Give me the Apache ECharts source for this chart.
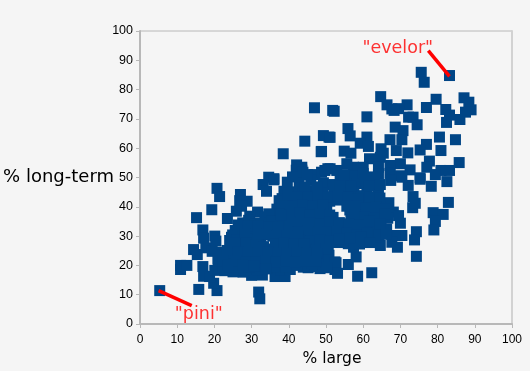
<!DOCTYPE html>
<html>
<head>
<meta charset="utf-8">
<script src="https://cdn.jsdelivr.net/npm/echarts@6/dist/echarts.min.js"></script>
<style>
  html, body { margin: 0; padding: 0; background: #f5f5f5; }
  #main { width: 530px; height: 371px; }
</style>
</head>
<body>
<div id="main"></div>
<script>
// [% large, % long-term]
var upperPoints = [
  [46.9,73.8],[52.2,72.6],[49.3,64.3],[50.8,63.8],[44.3,62.4],[48.7,58.8],[38.5,58.1],[42.1,54.3],[43.5,53.5],[42,52.5],[43.5,52.5],
  [47,51],[48.8,51.8],[50.5,53],[34.6,50.1],[36,49.6],[83.2,84.8],[75.6,85.9],[76.4,82.5],[64.7,77.6],[79.6,76.7],[87.1,77.2],
  [88.4,75.7],[66.4,74.8],[71.8,74.8],[77,73.9],[82.2,73.2],[89,73.1],[67.7,73.4],[69.5,73.5],[68.3,72.9],[87.5,72.3],[51.8,72.9],
  [61,70.7],[83.2,71.3],[72.2,70.6],[73.4,70.6],[86,69.8],[82.4,68.8],[74.5,68],[68.6,67.2],[55.9,66.7],[70.7,66],[56.5,64.2],
  [51.1,63.7],[61,63.8],[80.5,63.8],[84.8,62.9],[67.2,62.9],[70.4,62.9],[59.2,61.7],[61.4,60.6],[77,61.3],[75.3,59.4],[72,58.4],
  [80.9,59.2],[54.9,59],[56.7,58.3],[68.9,59.2],[64.8,59.8],[65.4,58.3],[48.8,58.9],[64.6,56.9],[61.7,56.4],[77.8,55.6],[85.8,55.1],
  [77.1,53.5],[80.9,52.4],[83.2,52.4],[79.4,51],[75.3,49.9],[72.6,52.6],[70,54.7],[67.2,54.1],[64.1,53.5],[64.1,51.2],[67.2,51.4],
  [70,50.6],[60,53.5],[57.4,53.5],[55.6,54.7],[51.1,53],[49.7,52.4],[52.9,52.4],[53.8,50.6],[57.4,50.6],[60,51.4]
];
var rightPoints = [
  [67.4,49],[75.3,49.4],[78.3,47],[82.5,48.6],[72.1,47.3],[70.4,50.1],[73.4,43.5],[73.3,39.7],[74,41.2],[82.9,41.5],[78.8,38],
  [81.5,37.4],[79.4,35],[79,32.1],[66.9,41.4],[68.1,38.2],[69.5,37],[70,34.4],[65,38.2],[63.2,37.7],[61,37.7],[62.8,42.2],[64.1,45.6],
  [61,45],[58.3,47.9],[74.3,31.5],[73.8,28.7],[70.4,30.2],[68.6,30.2],[67.7,27.9],[69.2,26.2],[65,31.7],[64.6,26.8],[74.3,23.1],
  [62.3,17.5],[58.5,16.3],[58.1,22.9],[56,20.3],[52.7,20.9],[52.4,18.6],[53.1,17.3],[49.3,20.5],[61,29.2],[57.8,28.5],[56,27.4],
  [57.4,26.2],[59.2,31.9],[57.3,31.9],[61.9,33],[63.7,33.6]
];
var lowerLeftPoints = [
  [5.3,11.4],[15.8,11.8],[20.7,11.4],[19.8,13.9],[31.9,10.9],[32.2,8.6],[10.9,20],[10.9,18.6],[12.6,20],[16.9,19.6],[17.1,16.3],
  [18.7,16.2],[15.4,23.7],[14.4,25.4],[17.7,26],[19.4,24.8],[23.4,25.1],[16.9,32.1],[17.1,29.3],[20.1,30],[20.4,28.3],[15.2,36.3],
  [19.3,39],[23.5,36],[20.7,46.3],[21.4,43.5],[27,44.2],[26.8,42.1],[28.8,41.9],[27.3,40.2],[25.9,38.5],[31.6,38.2],[29.5,36.8],
  [33.1,47.6],[34,45.3],[36,49.2],[38.7,45.3],[42.1,51.3],[43.8,51.8],[25.6,31.9],[24.6,29.6],[24.1,28.5],[32.9,16.7],[30,16.6],
  [27.7,17.7],[25.9,18.3],[36.3,16.2],[39,16.2],[20.1,18.3],[22.3,19.4],[21,22.3],[23.2,21.7],[43.9,19.4],[48.4,18.9]
];
var centerPoints = [
  [39.6,48.4],[42.8,48],[45.9,49],[49.3,48.2],[51.8,47.6],[55.2,48.3],[60.7,48.6],[63,47.7],
  [38.2,42.8],[41,45.1],[43.7,44.6],[46.6,45.4],[49.2,44.8],[52.1,45],[54.8,44.6],[57.5,45.2],[59.4,43.8],
  [37.4,42.1],[40.3,41.6],[43.2,42.2],[45.8,41.7],[48.5,42.4],[51,41.9],[53.9,42.3],[56.6,41.6],[59.3,41.2],[61.5,40.4],[64.2,41],
  [33.6,35.4],[36.8,39.2],[39.5,38.6],[42.2,39.4],[44.8,38.8],[47.6,39.1],[50.2,38.6],[56.4,38.9],[58.9,38.5],
  [27.6,34.5],[33.7,36.6],[36.2,36.3],[39,35.8],[41.7,36.4],[44.4,35.7],[47,36.2],[49.7,35.8],[51.9,36.4],[56.7,35.6],[59.4,35.9],[64.8,35.2],[66.6,36.1],
  [27.4,33],[30.4,33.2],[33.2,32.8],[36,33.3],[38.5,32.7],[41.2,33.2],[43.9,32.6],[46.5,33],[49.2,32.5],[51.8,33.2],[54.4,32.7],[66.3,32.4],
  [24.9,30.4],[27.6,30.8],[30.3,30],[33,30.5],[35.7,30],[38.4,30.6],[41,29.9],[43.7,30.4],[46.3,29.8],[49,30.5],[51.7,29.8],[54.3,30.2],[63.3,29.8],
  [24.4,27],[27.2,27.4],[29.8,26.8],[32.5,27.2],[37.4,26.7],[40,27.3],[42.7,26.6],[45.3,27.2],[48,26.7],[50.6,27.1],[53.2,27.8],[59,27.3],
  [22,24.4],[25,24],[27.6,24.2],[30.3,23.7],[33,24.3],[35.6,23.8],[38.3,24.2],[41,23.6],[43.6,24.1],[46.3,23.6],[49,24.2],[50.8,23.5],
  [21,21.4],[24.5,20.8],[27.2,21.2],[29.8,20.6],[32.5,21.1],[35.2,20.6],[37.8,21.2],[40.5,20.5],[43.2,21],[45.8,20.5],[48.4,21.1],[50.5,22.3],
  [22.8,18.2],[25,17.8],[28.4,18.6],[31.4,18.4],[34.2,19],[37.8,18.4],[40.4,18.6],[45.2,19.2],[47.1,19.6]
];
// the solid middle of the cloud, second pass between the rows above
var middlePoints = [
  [41,50.2],[45,51],[54.8,51],[60.4,50],[62.5,50.2],[56.6,47],[53.8,47.2],[47.6,46.8],[44.3,46.6],[61.6,47.2],[64.6,47.6],
  [39.7,44],[42.4,43.4],[45.2,43.2],[47.9,43.6],[50.6,43.4],[53.3,43.6],[56,43.2],[58.6,42.8],[61.8,43.4],[64.5,43],
  [38.2,40.4],[41,40.2],[43.7,40.6],[46.4,40.2],[49.1,40.6],[55.6,40.2],[58.2,40.2],[60.8,39.6],[63.4,39.8],[66,39.4],
  [34.6,37.6],[37.6,37.4],[40.3,37.2],[43.1,37.8],[45.8,37.3],[48.4,37.6],[51,37.2],[57.8,37.2],[60.4,36.4],[63,36],[65.8,37.4],
  [34.9,34.6],[37.6,34.4],[40.3,34.8],[43,34.3],[45.7,34.6],[48.4,34.2],[51,34.7],[53.6,34.6],[56.3,34.2],[59,33.8],[61.7,35],[64.5,34],
  [28.9,32],[31.6,31.6],[34.3,31.8],[37,31.4],[39.7,31.6],[42.4,31.3],[45.1,31.6],[47.8,31.2],[50.4,31.5],[53,31.6],[55.7,31],[58.4,30.4],[61,31],[64.2,30.4],[66.2,30.6],
  [26.2,28.8],[28.9,29],[31.6,28.6],[37.6,28.6],[40.3,28.4],[43,28.8],[45.6,28.3],[48.3,28.8],[51,28.2],[53.6,28.9],[56.4,29.2],[59.4,29.6],[61.8,27.8],
  [25.8,25.6],[28.5,25.4],[31.2,25.4],[33.9,25.6],[36.6,25.2],[39.3,25.6],[42,25.2],[44.7,25.6],[47.3,25.2],[50,25.6],
  [23.6,22.6],[26.3,22.4],[29,22.4],[31.7,22.6],[34.4,22.2],[37.1,22.6],[39.8,22.2],[42.4,22.6],[45.1,22.2],[47.8,22.6],[52.4,21.2],
  [26.4,19.6],[29.3,19.4],[33,19.8],[36,19.6],[39.2,19.6],[42.2,20],[46.2,20.4],[50.2,19.2],[21.8,23.6],[24.2,19.4]
];
// lower left of the cloud, where it reads as one solid block
var lowerBlockPoints = [
  [29.2,35.4],[30.8,34.2],[32.4,34.4],[35.4,35],[38,37.2],[26.4,33.8],[29,33.6],[31.8,33.4],[34.6,33.2],[37.2,33],[28.2,30.6],[31.6,30.2],
  [34.2,30.8],[36.9,30.2],[39.6,30.2],[42.4,30.2],[25.6,27.6],[28.6,27.8],[31.2,27],[33.2,26.4],[36.4,27.4],[38.8,27.6],[41.4,27.2],[44,27.4],
  [23.4,24.2],[26.4,24.6],[29,24.4],[31.6,24.2],[34.4,24.6],[37,24.2],[39.6,24.2],[42.3,24.4],[45,24.2],[47.6,24.2],[22.4,21.4],[25.8,21.6],
  [28.4,21.2],[31.2,21.2],[33.8,21.4],[36.6,21.2],[39.2,21.4],[41.8,21.2],[44.5,21.4],[47.2,21.4],[23.6,20],[27.6,20],[30.6,19.8],[33.8,18.8]
];
var largeTicks = [0, 100];
var evelorLine = [[77.5,93.3],[83.2,84.5]];
var piniLine = [[5,11.4],[13.9,6.3]];
var noteLabels = [
  { name: '"evelor"', value: [69.3,93.9] },
  { name: '"pini"', value: [15.8,3.1] }
];

var allPoints = upperPoints.concat(rightPoints, lowerLeftPoints, centerPoints, middlePoints, lowerBlockPoints);
var axisGray = '#b8b8b8';

var myChart = echarts.init(document.getElementById('main'));
myChart.setOption({
  animation: false,
  backgroundColor: '#f5f5f5',
  // v6 shrinks the grid to keep names on the canvas unless this is off
  grid: { left: 140, top: 31, width: 372, height: 293, outerBoundsMode: 'none', show: true, backgroundColor: '#f5f5f5', borderColor: axisGray, borderWidth: 1 },
  xAxis: {
    type: 'value',
    min: largeTicks[0],
    max: largeTicks[1],
    interval: 10,
    name: '% large',
    nameLocation: 'middle',
    nameGap: 27,
    nameMoveOverlap: false,
    nameTextStyle: { fontFamily: 'DejaVu Sans', fontSize: 15.5, color: '#000', padding: [0, 0, 0, 12] },
    axisLine: { lineStyle: { color: axisGray, width: 2 } },
    axisTick: { show: true, length: 4, lineStyle: { color: axisGray, width: 1 } },
    axisLabel: { fontFamily: 'Liberation Sans', fontSize: 12, color: '#000', margin: 10 },
    splitLine: { show: false }
  },
  yAxis: [{
    type: 'value',
    min: largeTicks[0],
    max: largeTicks[1],
    interval: 10,
    name: '% long-term',
    nameLocation: 'middle',
    nameRotate: 0,
    nameGap: 26,
    nameMoveOverlap: false,
    nameTextStyle: { fontFamily: 'DejaVu Sans', fontSize: 18, color: '#000' },
    axisLine: { show: true, lineStyle: { color: axisGray, width: 2 } },
    axisTick: { show: true, length: 4, lineStyle: { color: axisGray, width: 1 } },
    axisLabel: { fontFamily: 'Liberation Sans', fontSize: 12.5, color: '#000', margin: 7 },
    splitLine: { show: false }
  }, {
    type: 'value',
    position: 'right',
    min: largeTicks[0],
    max: largeTicks[1],
    axisLine: { show: true, lineStyle: { color: '#d2d2d2', width: 2 } },
    axisTick: { show: false },
    axisLabel: { show: false },
    splitLine: { show: false }
  }],
  series: [
    {
      type: 'scatter',
      data: allPoints,
      symbol: 'rect',
      symbolSize: 11,
      itemStyle: { color: '#004586', opacity: 1 }
    },
    {
      type: 'line',
      data: evelorLine,
      symbol: 'none',
      lineStyle: { color: '#ff0000', width: 3.5 },
      z: 5
    },
    {
      type: 'line',
      data: piniLine,
      symbol: 'none',
      lineStyle: { color: '#ff0000', width: 3.5 },
      z: 5
    },
    {
      type: 'scatter',
      data: noteLabels,
      symbolSize: 0,
      z: 6,
      label: {
        show: true,
        position: 'inside',
        formatter: '{b}',
        fontFamily: 'DejaVu Sans',
        fontSize: 17.5,
        color: '#ff0000'
      }
    }
  ]
});
</script>
</body>
</html>
